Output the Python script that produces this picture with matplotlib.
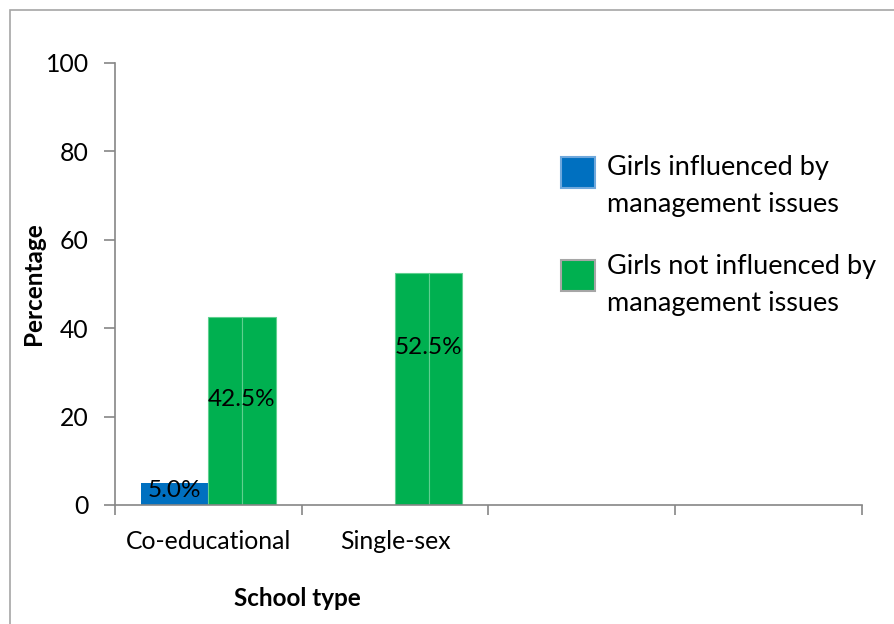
import matplotlib
matplotlib.use("Agg")
import matplotlib.pyplot as plt
import numpy as np
from matplotlib.patches import Rectangle

plt.rcParams['font.family'] = ['Lato', 'DejaVu Sans']

categories = ["Co-educational", "Single-sex", "", ""]
influenced = [5.0, 0.0]
not_influenced = [42.5, 52.5]
label_pos_influenced = [3.2, None]
label_pos_not = [23.8, 35.7]
series_names = ["Girls influenced by\nmanagement issues",
                "Girls not influenced by\nmanagement issues"]
yticks = [0, 20, 40, 60, 80, 100]

BLUE = "#0070C0"
GREEN = "#00B050"
GREY = "#868686"

W, H = 894, 624
fig = plt.figure(figsize=(W / 100, H / 100), dpi=100)
ax = fig.add_axes([115 / W, 1 - 505 / H, (862 - 115) / W, (505 - 63) / H])

x = np.arange(len(influenced))
w = 0.36
ax.bar(x - w / 2, influenced, width=w, color=BLUE, zorder=2)
ax.bar(x + w / 4, not_influenced, width=w / 2, color=GREEN,
       edgecolor="#5fd08f", linewidth=0.8, zorder=2)
ax.bar(x + 3 * w / 4, not_influenced, width=w / 2, color=GREEN,
       edgecolor="#5fd08f", linewidth=0.8, zorder=2)

for i, v in enumerate(influenced):
    if v > 0:
        ax.text(x[i] - w / 2, label_pos_influenced[i], f"{v:.1f}%",
                ha="center", va="center", fontsize=17.5, color="black", zorder=3)
for i, v in enumerate(not_influenced):
    ax.text(x[i] + w / 2, label_pos_not[i], f"{v:.1f}%",
            ha="center", va="center", fontsize=17.5, color="black", zorder=3)

ax.set_xlim(-0.5, len(categories) - 0.5)
ax.set_ylim(0, 100)
ax.set_yticks(yticks)
ax.set_yticklabels([str(t) for t in yticks])
ax.set_xticks(np.arange(len(categories)))
ax.set_xticklabels(categories)
ax.set_xticks(np.arange(len(categories) + 1) - 0.5, minor=True)
ax.tick_params(axis="x", which="major", length=0, pad=18, labelsize=17.8)
ax.tick_params(axis="x", which="minor", length=7, color=GREY, width=1.2)
ax.tick_params(axis="y", length=8, color=GREY, width=1.2, pad=11, labelsize=17.8)

for s in ["top", "right"]:
    ax.spines[s].set_visible(False)
for s in ["left", "bottom"]:
    ax.spines[s].set_color(GREY)
    ax.spines[s].set_linewidth(1.2)

ax.set_ylabel("Percentage", fontsize=17.5, fontweight="bold")
ax.yaxis.set_label_coords((45 - 115) / (862 - 115), 0.5)
fig.text(297 / W, 1 - 598 / H, "School type", fontsize=17.5, fontweight="bold",
         ha="center", va="center")

# legend drawn manually to match layout (swatch aligned with first line)
leg_colors = [(BLUE, "#6fa8dc"), (GREEN, "#a6a6a6")]
swatch_top = [157, 260]
text_center = [186.5, 285]
for (fc, ec), st, tc, name in zip(leg_colors, swatch_top, text_center, series_names):
    fig.patches.append(Rectangle((561 / W, 1 - (st + 31) / H), 34 / W, 31 / H,
                                 transform=fig.transFigure, facecolor=fc,
                                 edgecolor=ec, linewidth=1.5))
    fig.text(607 / W, 1 - tc / H, name, fontsize=19.5, ha="left", va="center",
             linespacing=1.6)

fig.patches.append(Rectangle((10 / W, -0.1), 1.2, 1 - 10 / H + 0.1,
                             transform=fig.transFigure, fill=False,
                             edgecolor="#a6a6a6", linewidth=1.2))

fig.savefig("out.png", dpi=100)
